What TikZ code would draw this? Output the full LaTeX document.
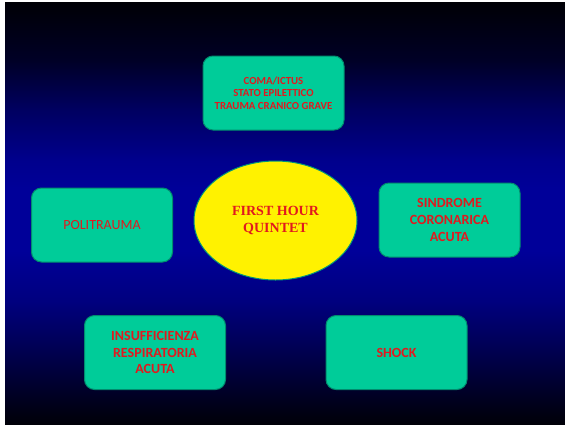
\documentclass[tikz,border=0pt]{standalone}
\usepackage{fontspec}
\setmainfont{Carlito}
\newfontfamily\timesfont{Liberation Serif}
\usepackage{tikz}
\usetikzlibrary{shapes.geometric}

\definecolor{boxfill}{RGB}{0,204,153}
\definecolor{boxline}{RGB}{0,140,110}
\definecolor{labelred}{RGB}{225,25,30}
\definecolor{ovalline}{RGB}{0,150,120}

% slide background, dark at the edges and blue in the middle
\pgfdeclareverticalshading{slidebg}{100bp}{
    rgb(0bp)=(0,0,0.03); rgb(25bp)=(0,0,0.03);
    rgb(27.8bp)=(0,0,0.12); rgb(33.8bp)=(0,0,0.32);
    rgb(39.7bp)=(0,0,0.5); rgb(45.6bp)=(0,0,0.6);
    rgb(52.7bp)=(0,0,0.6); rgb(56.3bp)=(0,0,0.55);
    rgb(62.2bp)=(0,0,0.38); rgb(68.1bp)=(0,0,0.15);
    rgb(75bp)=(0,0,0.02); rgb(100bp)=(0,0,0.02)}

\tikzset{
    emergency/.style={draw=boxline, fill=boxfill, line width=1pt, rounded corners=10pt,
        minimum width=141pt, minimum height=74pt, align=center, text=labelred,
        font=\bfseries\fontsize{14}{16.7}\selectfont},
    quintet/.style={draw=ovalline, fill=yellow, line width=1pt, ellipse,
        minimum width=163pt, minimum height=119pt, align=center, text=labelred,
        font=\timesfont\bfseries\fontsize{14}{16.5}\selectfont}
}

\begin{document}
\begin{tikzpicture}[x=1pt, y=-1pt]
    \useasboundingbox[fill=white] (0, 0) rectangle (565, 426);
    \shade[shading=slidebg] (5, 2) rectangle (565, 424);

    \node[quintet] at (275.5, 220.5) (center) {FIRST HOUR\\QUINTET};

    \node[emergency, font=\bfseries\fontsize{10.8}{12.5}\selectfont] at (273.5, 93) (coma)
        {COMA/ICTUS\\STATO EPILETTICO\\TRAUMA CRANICO GRAVE};
    \node[emergency, font=\fontsize{14}{16.7}\selectfont] at (102, 225) (politrauma) {POLITRAUMA};
    \node[emergency] at (449.5, 220) (sindrome) {SINDROME\\CORONARICA\\ACUTA};
    \node[emergency] at (155, 352.5) (insufficienza) {INSUFFICIENZA\\RESPIRATORIA\\ACUTA};
    \node[emergency] at (396.5, 352.5) (shock) {SHOCK};
\end{tikzpicture}
\end{document}
